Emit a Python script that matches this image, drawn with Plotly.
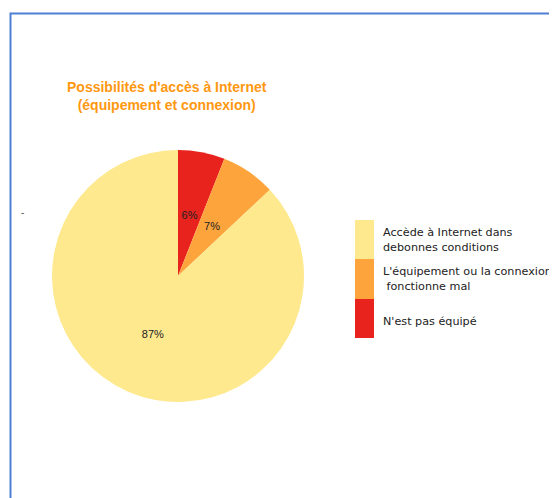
import plotly.graph_objects as go

labels = ["Accède à Internet dans<br>debonnes conditions",
          "L'équipement ou la connexion<br> fonctionne mal",
          "N'est pas équipé"]
values = [87, 7, 6]
colors = ["#FEE98F", "#FDA43C", "#E8231D"]
title_text = "Possibilités d'accès à Internet<br>(équipement et connexion)"

W, H = 549, 490
OFF = 8  # page body margin
def px(x):
    return (x - OFF) / W
def py(y):
    return 1 - (y - OFF) / H

pie_labels = labels[::-1]
pie_values = values[::-1]
pie_colors = colors[::-1]
big_text = ["%{percent}" if v >= 50 else "" for v in pie_values]
small_text = ["" if v >= 50 else "%{percent}" for v in pie_values]

fig = go.Figure()
fig.add_trace(go.Pie(
    labels=pie_labels, values=pie_values, sort=False, direction="clockwise",
    rotation=0, marker=dict(colors=pie_colors, line=dict(width=0)),
    texttemplate=big_text, textposition="inside", insidetextorientation="horizontal",
    textfont=dict(family="Arial", size=11, color="#222222"),
    domain=dict(x=[px(52), px(304)], y=[py(402), py(150)]),
    showlegend=False, hoverinfo="label+percent",
))
# transparent inner pie used only to place the small-slice labels nearer the centre
fig.add_trace(go.Pie(
    labels=pie_labels, values=pie_values, sort=False, direction="clockwise",
    rotation=0, marker=dict(colors=["rgba(0,0,0,0)"] * 3, line=dict(width=0)),
    texttemplate=small_text, textposition="inside", insidetextorientation="horizontal",
    textfont=dict(family="Arial", size=11, color="#222222"),
    domain=dict(x=[px(104), px(252)], y=[py(350), py(202)]),
    showlegend=False, hoverinfo="skip",
))

shapes = [dict(type="rect", xref="paper", yref="paper",
               x0=px(10.5), x1=1.2, y0=-0.2, y1=py(13.5),
               line=dict(color="#4E7FD2", width=2), fillcolor="rgba(0,0,0,0)")]
annotations = [dict(text=title_text, xref="paper", yref="paper", x=px(167), y=py(96),
                    showarrow=False, xanchor="center", yanchor="middle",
                    font=dict(family="Arial", size=14, color="#FF9811", weight="bold"))]
annotations.append(dict(text="-", xref="paper", yref="paper", x=px(19), y=py(212),
                        showarrow=False, font=dict(family="Arial", size=10, color="#555555")))

# custom legend blocks
block_tops = [220, 259, 299]
block_bots = [259, 299, 338]
text_ys = [240, 279, 321]
for lab, col, t, b, ty in zip(labels, colors, block_tops, block_bots, text_ys):
    shapes.append(dict(type="rect", xref="paper", yref="paper",
                       x0=px(355), x1=px(374), y0=py(b), y1=py(t),
                       line=dict(width=0), fillcolor=col))
    annotations.append(dict(text=lab, xref="paper", yref="paper", x=px(381), y=py(ty),
                            showarrow=False, xanchor="left", yanchor="middle", align="left",
                            font=dict(family="DejaVu Sans", size=11.2, color="#222222")))

fig.update_layout(
    width=W, height=H, margin=dict(l=0, r=0, t=0, b=0),
    paper_bgcolor="white", plot_bgcolor="white",
    shapes=shapes, annotations=annotations,
)
fig.write_html("out.html")
